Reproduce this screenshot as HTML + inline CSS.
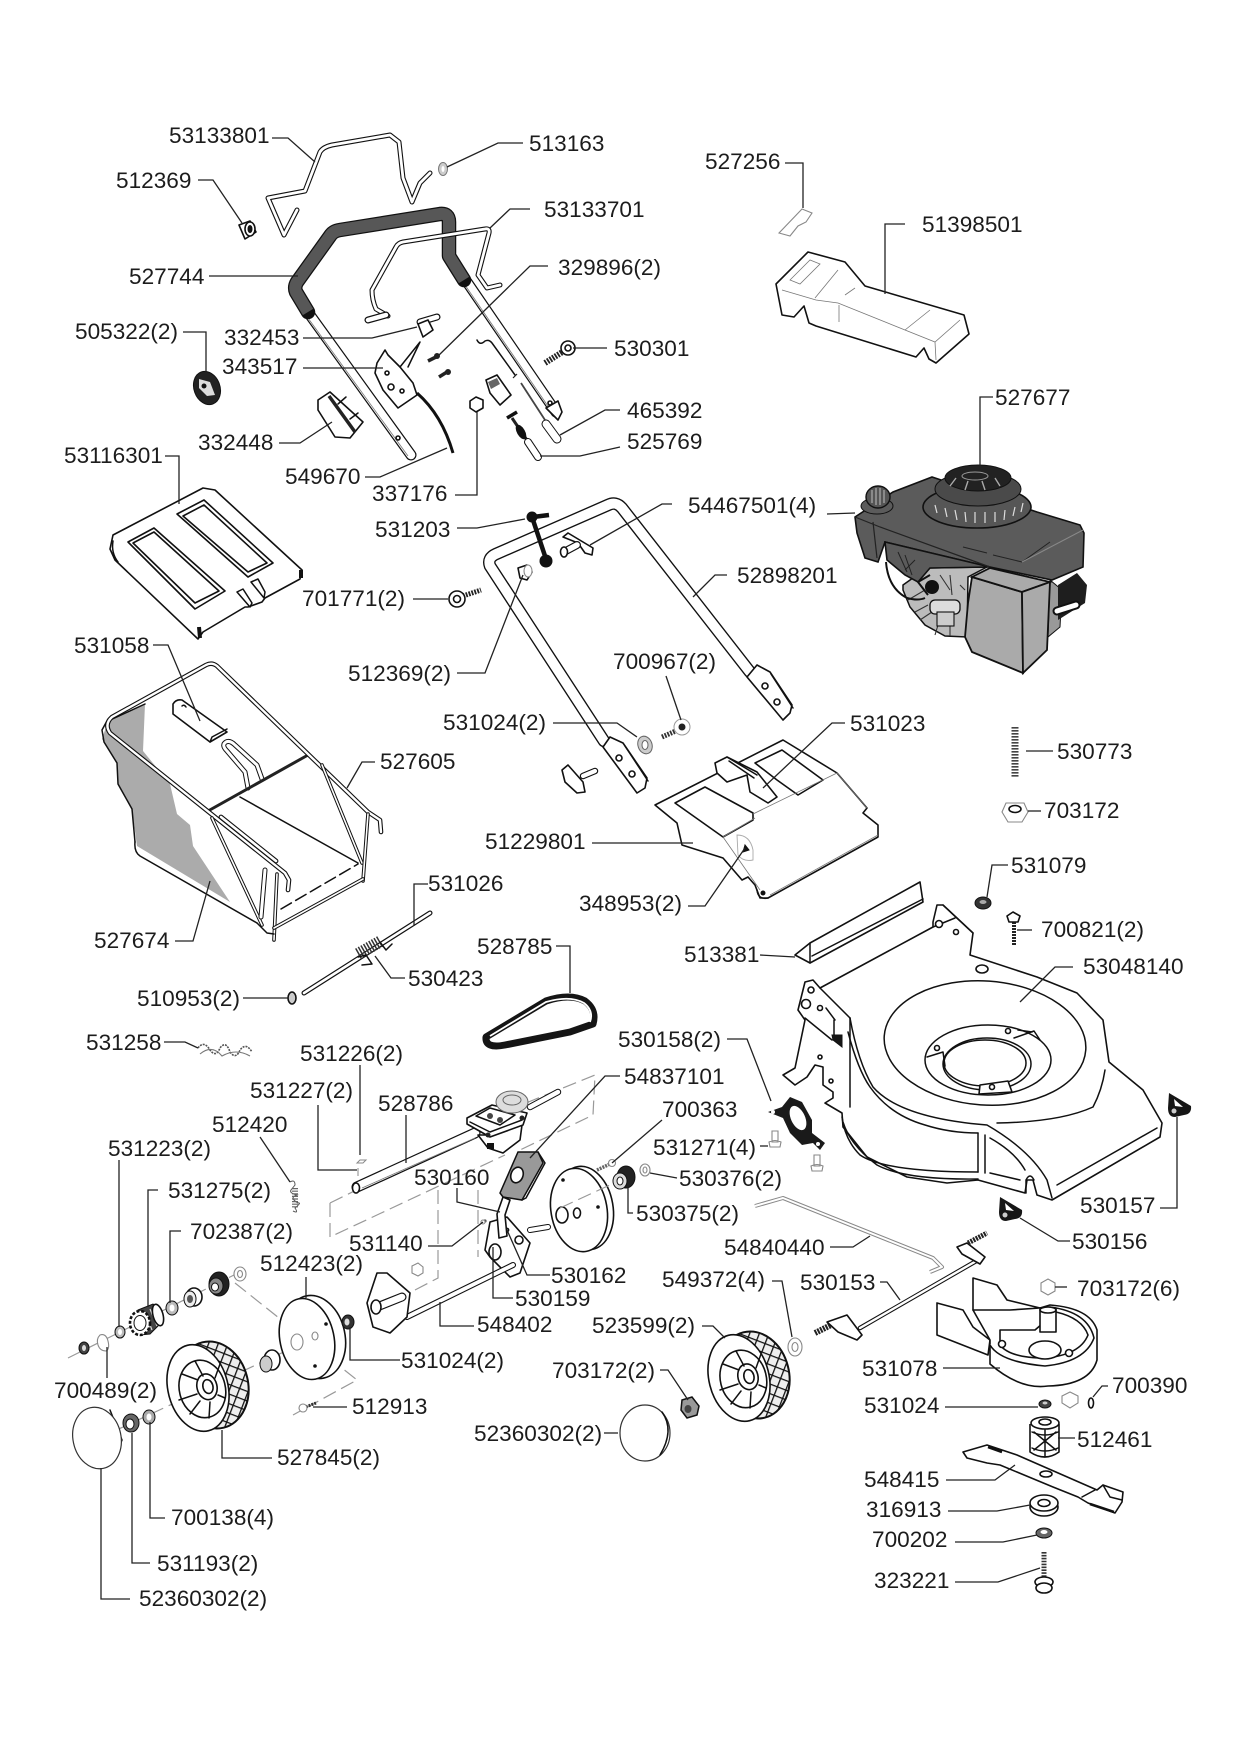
<!DOCTYPE html>
<html><head><meta charset="utf-8"><title>Parts diagram</title>
<style>
html,body{margin:0;padding:0;background:#fff}
svg{display:block}
text{font-family:"Liberation Sans",sans-serif;font-size:22.6px;fill:#1c1c1c;stroke:none}
.l{fill:none;stroke:#222;stroke-width:1.3}
.p{fill:#fff;stroke:#111;stroke-width:1.6;stroke-linejoin:round}
.n{fill:none;stroke:#111;stroke-width:1.5;stroke-linejoin:round;stroke-linecap:round}
.th{fill:none;stroke:#777;stroke-width:.8}
.g{fill:#fff;stroke:#888;stroke-width:1.1}
.d{fill:none;stroke:#999;stroke-width:1.2;stroke-dasharray:14 6}
.k{fill:#161616;stroke:#111;stroke-width:1}
.to{fill:none;stroke:#111;stroke-linejoin:round;stroke-linecap:round}
.ti{fill:none;stroke:#fff;stroke-linejoin:round;stroke-linecap:round}
</style></head>
<body>
<svg xmlns="http://www.w3.org/2000/svg" width="1240" height="1754" viewBox="0 0 1240 1754">
<defs>
<pattern id="tread" width="9" height="9" patternUnits="userSpaceOnUse" patternTransform="rotate(35)">
<rect width="9" height="9" fill="#eee"/><path d="M0 0H9M0 0V9" stroke="#111" stroke-width="2.6"/>
</pattern>
<g id="wheel">
<ellipse cx="15" cy="-3" rx="35" ry="44" fill="url(#tread)" stroke="#111" stroke-width="2" transform="rotate(-14 15 -3)"/>
<ellipse cx="0" cy="0" rx="30" ry="44" class="p" stroke-width="2.2" transform="rotate(-14)"/>
<ellipse cx="4" cy="2" rx="23" ry="29" class="p" transform="rotate(-14)"/>
<ellipse cx="9" cy="1" rx="10" ry="13" class="p" transform="rotate(-14)"/>
<ellipse cx="10" cy="1" rx="5" ry="7" class="p" transform="rotate(-14)"/>
<path class="n" d="M0-8L-16-14M-1 6L-19 12M5-12L-3-27M17-10L22-24M20 7L27 10M12 14L11 30M2 13L-8 26" stroke-width="1.3"/>
</g>
</defs>

<!-- ===== top handle ===== -->
<path class="to" stroke-width="5" d="M297 210L284 235L268 198L305 191L320 152Q323 147 332 145L390 135L399 142L403 178L412 202L420 183L430 173"/>
<path class="ti" stroke-width="2.8" d="M297 210L284 235L268 198L305 191L320 152Q323 147 332 145L390 135L399 142L403 178L412 202L420 183L430 173"/>
<ellipse cx="443" cy="169" rx="4.5" ry="6.5" fill="#ccc" stroke="#777"/><ellipse cx="443" cy="169" rx="1.5" ry="3" fill="#fff"/>
<polygon class="p" points="239,225 250,221 256,232 245,239"/><ellipse cx="250" cy="229" rx="5" ry="7" class="p"/><ellipse cx="250" cy="229" rx="2" ry="3.5" class="k"/>

<!-- lower handle tubes -->
<path class="to" stroke-width="11" d="M310 315L411 455"/><path class="ti" stroke-width="8.6" d="M310 315L411 455"/><path class="th" d="M308 318L408 456"/>
<path class="to" stroke-width="11" d="M467 282L556 412"/><path class="ti" stroke-width="8.6" d="M467 282L556 412"/><path class="th" d="M465 285L552 412"/>
<circle cx="550" cy="403" r="2" class="p"/><circle cx="398" cy="438" r="2" class="p"/>
<!-- grip -->
<path class="to" stroke-width="14.5" stroke-linecap="butt" d="M308 312L296 292Q294 287 297 282L330 236Q333 231 340 230L440 214Q449 213 449 222L449 256L464 280"/>
<path fill="none" stroke="#575757" stroke-width="12" stroke-linejoin="round" d="M308 312L296 292Q294 287 297 282L330 236Q333 231 340 230L440 214Q449 213 449 222L449 256L464 280"/>
<!-- 53133701 tube -->
<path class="to" stroke-width="5" d="M388 316L376 309Q372 300 372 290L396 247Q398 243 403 242L485 229Q490 228 489 233L478 275L487 288L500 285"/>
<path class="ti" stroke-width="2.8" d="M388 316L376 309Q372 300 372 290L396 247Q398 243 403 242L485 229Q490 228 489 233L478 275L487 288L500 285"/>
<path class="to" stroke-width="7" d="M368 320L386 315"/><path class="ti" stroke-width="4.5" d="M368 320L386 315"/>
<!-- 332453 tee -->
<path class="to" stroke-width="7" d="M420 322L437 317"/><path class="ti" stroke-width="4.6" d="M420 322L437 317"/>
<polygon class="p" points="418,324 428,320 433,330 423,337"/>
<!-- bracket 343517 -->
<polygon class="p" points="385,350 377,363 375,373 383,390 398,408 417,395 413,383 400,367 388,355"/>
<path class="n" d="M400 367L420 342L408 367"/><circle cx="387" cy="373" r="2" class="p"/><circle cx="391" cy="387" r="3" class="p"/><circle cx="402" cy="391" r="2" class="p"/>
<path fill="none" stroke="#111" stroke-width="3" d="M417 393Q442 415 453 453"/>
<!-- knob -->
<ellipse cx="207" cy="388" rx="13" ry="17" fill="#222" stroke="#111" transform="rotate(-20 207 388)"/>
<path d="M199 379L210 382L215 395L207 396L199 388Z" fill="#ddd"/>
<circle cx="204" cy="386" r="2.5" fill="#111"/>
<!-- 332448 -->
<polygon class="p" points="318,400 330,392 363,422 350,438 335,437 318,410"/>
<path d="M329 396L355 432" stroke="#222" stroke-width="3.5" fill="none"/><path class="n" d="M346 397L338 404M358 413L350 419"/>
<!-- small hardware -->
<path stroke="#222" stroke-width="3.5" d="M428 361L436 357"/><circle cx="437" cy="356" r="3" fill="#222"/>
<path stroke="#222" stroke-width="3.5" d="M439 377L447 372"/><circle cx="448" cy="372" r="3" fill="#222"/>
<path class="n" d="M477 340Q480 346 485 341Q489 339 492 343L515 375"/><path d="M521 383L545 420" stroke="#444" stroke-width="1.8"/><path d="M513 378L517 374" stroke="#222" stroke-width="1.2"/>
<polygon class="p" points="476,397 483,400 483,408 476,412 470,408 470,401"/>
<polygon class="p" points="486,380 497,375 511,395 500,405 490,393"/><path d="M488 382L497 378L500 384L491 389Z" fill="#666"/>
<path stroke="#222" stroke-width="3" d="M512 418L535 452"/><path d="M507 418L517 412" stroke="#111" stroke-width="3.5"/><ellipse cx="521" cy="432" rx="4" ry="8" fill="#111" transform="rotate(-30 521 432)"/>
<path class="to" stroke-width="8" d="M528 442L538 457"/><path class="ti" stroke-width="6" d="M528 442L538 457"/>
<path class="to" stroke-width="9" d="M546 424L557 439"/><path class="ti" stroke-width="7" d="M546 424L557 439"/>
<!-- right handle end -->
<path class="p" d="M546 408L558 401L562 412L558 420Z"/>
<!-- 530301 screw -->
<path d="M545 363L564 351" stroke="#222" stroke-width="6" stroke-dasharray="1.8 1.2"/><circle cx="568" cy="348" r="7" class="p" stroke-width="2"/><circle cx="568" cy="348" r="3" class="p"/>

<!-- ===== cover ===== -->
<polygon class="p" points="776,284 808,252 845,262 865,286 964,315 969,334 936,363 929,359 924,348 916,357 816,326 809,323 804,306 794,317 782,315" stroke-width="2"/>
<path class="th" d="M782 290L816 300L838 303L905 330L935 342L960 320M815 298L838 270M845 295L855 288M905 330L930 310M935 342L936 360M839 305V322"/>
<polygon class="th" points="790,280 810,260 820,264 800,284"/>
<polygon class="g" points="779,233 802,209 812,213 806,222 798,226 790,236"/>

<!-- ===== engine ===== -->
<polygon points="1050,580 1062,590 1060,627 1048,637" fill="#999" stroke="#111"/>
<polygon points="1058,585 1077,573 1087,585 1085,603 1058,620" fill="#1e1e1e"/>
<path d="M1057 611L1076 605" stroke="#111" stroke-width="9" stroke-linecap="round"/><path d="M1057 611L1076 605" stroke="#fff" stroke-width="5" stroke-linecap="round"/>
<path d="M903 585L927 568L987 567L968 577L967 637L945 636L925 625L910 607L903 590Z" fill="#bcbcbc" stroke="#111" stroke-width="1.5"/>
<path d="M908 600L925 590M915 612L928 605M938 625L935 635M950 625V636M920 620L935 610M950 575L952 595M960 585L965 590M940 575L950 590" stroke="#333" stroke-width="1.1"/>
<rect x="930" y="600" width="30" height="14" rx="5" fill="#ddd" stroke="#111" stroke-width="1.3"/>
<rect x="937" y="612" width="17" height="14" fill="#ccc" stroke="#111" stroke-width="1.1"/>
<path d="M930 575L918 582L928 595" fill="none" stroke="#111" stroke-width="2"/>
<polygon points="855,517 893,492 932,477 1037,512 1080,525 1084,533 1083,567 1052,580 990,567 885,542 878,562 865,558 857,533" fill="#5b5b5b" stroke="#111" stroke-width="1.6"/>
<polygon points="885,542 990,567 930,568 918,582 905,575 887,560" fill="#5b5b5b" stroke="#111" stroke-width="1.6"/>
<path d="M905 555L912 575M898 552L907 572M915 560L905 570" stroke="#222" stroke-width="1"/>
<path d="M873 522L877 558M855 517L880 527L990 567" stroke="#222" stroke-width="1.2" fill="none"/>
<path d="M963 547L987 553M993 555L1022 562L1050 542" stroke="#222" stroke-width="1" fill="none"/>
<path d="M1083 530L1022 562" stroke="#888" stroke-width="1" fill="none"/>
<ellipse cx="977" cy="507" rx="54" ry="21" fill="#565656" stroke="#111" stroke-width="1.6"/>
<path d="M935 505L937 513M945 508L947 517M955 510L957 520M965 512L966 522M975 512L975 523M985 512L985 523M995 512L995 522M1005 510L1004 520M1015 507L1013 516M1023 503L1021 512" stroke="#ddd" stroke-width="1.2"/>
<ellipse cx="978" cy="489" rx="43" ry="17" fill="#4a4a4a" stroke="#111"/>
<ellipse cx="978" cy="478" rx="33" ry="13" fill="#222" stroke="#111"/>
<ellipse cx="975" cy="476" rx="13" ry="4" fill="none" stroke="#999"/>
<path d="M950 486L956 478M965 490L968 481M985 490L982 481M1000 486L995 478" stroke="#aaa" stroke-width="1.4"/>
<ellipse cx="877" cy="506" rx="16" ry="8" fill="#5b5b5b" stroke="#111"/>
<ellipse cx="878" cy="497" rx="12" ry="11" fill="#555" stroke="#111" stroke-width="1.4"/>
<path d="M872 490V503M876 488V505M880 488V505M884 490V503" stroke="#ccc" stroke-width=".9"/>
<polygon points="972,577 1022,592 1023,673 972,652 965,637 968,603" fill="#aaa" stroke="#111" stroke-width="1.8"/>
<polygon points="972,577 990,568 1050,582 1022,592" fill="#aaa" stroke="#111" stroke-width="1.8"/>
<polygon points="1022,592 1050,582 1047,650 1023,673" fill="#aaa" stroke="#111" stroke-width="1.8"/>
<path fill="none" stroke="#111" stroke-width="2" d="M886 562Q888 588 907 598Q918 601 925 598"/>
<circle cx="932" cy="587" r="7" fill="#111"/>

<!-- ===== catcher lid ===== -->
<polygon class="p" points="113,535 203,488 215,490 302,570 300,579 265,598 262,602 248,607 245,607 203,632 198,639 115,560 110,549" stroke-width="1.8"/>
<path class="n" d="M118 562Q111 553 113 541"/>
<polygon class="p" points="128,542 154,528 225,591 195,609" stroke-width="1.8"/><polygon class="p" points="133,543 154,532 219,591 195,603"/>
<polygon class="p" points="177,514 204,500 273,563 248,577" stroke-width="1.8"/><polygon class="p" points="183,516 204,505 267,563 248,572"/>
<path class="n" d="M237 592L243 589L252 603L250 607ZM251 582L258 579L265 592L264 598Z"/>
<path d="M199 627L200 638M301 570L301 578" stroke="#111" stroke-width="4"/>

<!-- ===== catcher ===== -->
<polygon points="108,721 145,704 143,751 170,784 177,814 190,825 193,846 230,902 137,846 132,809 118,784 117,763 102,739" fill="#ababab"/>
<path class="n" d="M108 719L102 730L104 742L117 763L118 784L132 809L135 842"/>
<path class="n" d="M145 704L108 721"/>
<path class="n" d="M135 842Q134 852 140 856L257 923"/>
<path class="n" d="M240 797L358 863"/>
<path class="to" stroke-width="5" d="M248 788L245 772L227 751Q221 745 226 742Q230 740 235 745L257 765L262 779"/><path class="ti" stroke-width="3" d="M248 788L245 772L227 751Q221 745 226 742Q230 740 235 745L257 765L262 779"/>
<path stroke="#222" stroke-width="3" d="M208 811L308 755"/>
<path class="p" d="M173 704Q176 699 182 700L227 732L210 742L173 714Z"/><path class="n" d="M210 742L212 737L227 729M186 707q-2-3-4-1"/>
<path class="to" stroke-width="4.6" d="M381 832L380 820L368 812L217 666Q212 662 206 665L112 717Q104 724 110 733L285 873L289 880L288 890"/>
<path class="ti" stroke-width="2.4" d="M381 832L380 820L368 812L217 666Q212 662 206 665L112 717Q104 724 110 733L285 873L289 880L288 890"/>
<path class="to" stroke-width="3.6" d="M322 765L362 863"/><path class="ti" stroke-width="1.6" d="M322 765L362 863"/>
<path class="to" stroke-width="3.6" d="M212 818L262 925"/><path class="ti" stroke-width="1.6" d="M212 818L262 925"/>
<path class="to" stroke-width="3.6" d="M368 814L363 881"/><path class="ti" stroke-width="1.6" d="M368 814L363 881"/>
<path class="to" stroke-width="3.6" d="M277 874L274 940"/><path class="ti" stroke-width="1.6" d="M277 874L274 940"/>
<path class="to" stroke-width="3.6" d="M274 928L363 879"/><path class="ti" stroke-width="1.6" d="M274 928L363 879"/>
<path class="to" stroke-width="4.8" d="M221 817L276 861"/><path class="ti" stroke-width="2.6" d="M221 817L276 861"/>
<path class="to" stroke-width="5" d="M265 870L261 917"/><path class="ti" stroke-width="3" d="M265 870L261 917"/>
<path class="n" d="M281 909L358 864" stroke-dasharray="12 5"/>
<path class="n" d="M257 923L267 933L274 934"/>

<!-- shaft 531026 -->
<path class="to" stroke-width="5" d="M304 993L430 913"/><path class="ti" stroke-width="2.6" d="M304 993L430 913"/>
<path d="M358 954L381 941" stroke="#333" stroke-width="12" stroke-dasharray="1.5 1.5"/>
<path d="M358 957L366 955L372 964L362 965" class="n" stroke-width="1.1"/><path d="M380 942L386 950L392 944" class="n" stroke-width="1.1"/>
<ellipse cx="292" cy="998" rx="4" ry="6" fill="#ccc" stroke="#111" stroke-width="1.6"/>

<!-- belt -->
<path fill="none" stroke="#151515" stroke-width="7" stroke-linejoin="round" d="M486 1037L546 1001Q570 993 585 1001Q597 1010 593 1024L570 1032L505 1045Q485 1049 486 1037Z"/>
<path fill="none" stroke="#fff" stroke-width="1.8" d="M490 1036L546 1002Q570 995 584 1003Q594 1011 590 1022"/>
<!-- spring 531258 -->
<path fill="none" stroke="#555" stroke-width="1.6" stroke-dasharray="2 1" d="M198 1048Q204 1040 210 1050Q216 1058 220 1048Q226 1040 230 1052Q236 1060 240 1050Q246 1042 252 1052"/>
<path fill="none" stroke="#777" stroke-width="1.1" d="M200 1054Q212 1044 222 1056Q236 1048 250 1056"/>

<!-- ===== upper handle ===== -->
<path class="to" stroke-width="12.5" d="M604 741L490 566Q487 558 496 554L608 505Q616 501 622 508L750 672"/>
<path class="ti" stroke-width="9.8" d="M604 741L490 566Q487 558 496 554L608 505Q616 501 622 508L750 672"/>
<polygon class="p" points="603,747 610,737 623,743 647,778 645,788 637,793"/><path class="n" d="M625 746L648 781"/>
<circle cx="619" cy="758" r="3" class="p"/><circle cx="632" cy="774" r="3" class="p"/>
<polygon class="p" points="747,677 757,665 770,672 792,705 790,713 783,720"/><path class="n" d="M771 674L793 708"/>
<circle cx="765" cy="686" r="3" class="p"/><circle cx="777" cy="702" r="3" class="p"/>
<path stroke="#111" stroke-width="4.5" fill="none" d="M532 517L547 562M533 517L549 515"/><circle cx="532" cy="517" r="5.5" fill="#111"/><circle cx="546" cy="561" r="6.5" fill="#111"/>
<polygon class="p" points="563,537 568,533 593,548 592,555 585,553 578,543"/>
<path class="to" stroke-width="8" d="M564 552L577 545"/><path class="ti" stroke-width="5.6" d="M564 552L577 545"/><ellipse cx="564" cy="552" rx="3.5" ry="5" class="p"/>
<path class="p" d="M518 568L527 565L532 572L527 580L520 578Z"/><ellipse cx="528" cy="571" rx="4" ry="6" class="g" stroke="#333"/>
<path d="M463 596L481 590" stroke="#222" stroke-width="5" stroke-dasharray="1.8 1.2"/><circle cx="457" cy="599" r="8" class="p"/><circle cx="457" cy="599" r="3.5" class="p"/>
<path d="M662 737L678 730" stroke="#333" stroke-width="5" stroke-dasharray="1.8 1.2"/><circle cx="682" cy="727" r="8" fill="#fff" stroke="#999"/><circle cx="682" cy="727" r="3.5" fill="#222"/>
<ellipse cx="645" cy="745" rx="7" ry="9" fill="#ccc" stroke="#666" transform="rotate(-20 645 745)"/><ellipse cx="645" cy="745" rx="3" ry="4.5" fill="#fff" stroke="#666"/>
<polygon class="p" points="562,770 568,765 583,782 585,792 577,793 565,782"/>
<path class="to" stroke-width="6.5" d="M583 776L595 771"/><path class="ti" stroke-width="4.2" d="M583 776L595 771"/>

<!-- ===== deflector ===== -->
<polygon class="p" points="655,805 783,740 837,773 867,808 863,813 878,825 878,837 768,898 760,898 755,885 748,877 742,880 723,858 682,845 677,823" stroke-width="1.7"/>
<polygon class="p" points="675,803 705,787 753,813 753,820 723,837"/>
<polygon class="p" points="755,763 782,750 823,780 798,795 777,780"/>
<path class="th" d="M753 814L837 773L867 808M723 837L755 818M723 837L760 890M770 895L878 835" stroke-width=".7"/>
<polygon class="p" points="715,763 727,757 757,772 777,797 768,803 750,792 747,775 727,782 717,773"/>
<path class="n" d="M727 757L757 775M729 761L754 778"/>
<path class="n" d="M768 898Q758 900 757 890"/><circle cx="763" cy="893" r="2.5" fill="#111"/>
<path d="M737 835Q750 835 753 850L753 860Q743 862 738 855Z" fill="none" stroke="#aaa" stroke-width=".9"/>
<path d="M745 845L743 852L749 850Z" class="k"/>

<!-- ===== deck ===== -->
<polygon class="p" points="795,955 810,943 920,882 923,902 810,963"/><path class="n" d="M810 943L810 963M923 899L812 956"/>
<polygon class="p" points="933,927 933,922 937,905 943,905 973,933 970,955 1037,977 1077,993 1103,1020 1109,1062 1143,1090 1162,1123 1160,1137 1052,1200 1037,1195 1033,1180 1027,1180 1025,1193 978,1180 947,1183 907,1177 867,1157 843,1127 842,1113 825,1103 833,1098 833,1092 823,1085 823,1067 815,1065 807,1077 795,1085 783,1075 795,1068 805,1020 798,1010 805,982 813,980 820,988" stroke-width="1.7"/>
<ellipse cx="985" cy="1043" rx="101" ry="62" class="n" transform="rotate(4 985 1043)"/>
<ellipse cx="988" cy="1060" rx="63" ry="35" class="n"/>
<ellipse cx="987" cy="1064" rx="44" ry="26" class="n"/><ellipse cx="985" cy="1063" rx="41" ry="23" class="n" stroke-width="1"/>
<path class="p" d="M980 1085L1008 1081L1012 1092L979 1094Z"/><circle cx="992" cy="1087" r="2.5" class="p"/>
<path class="n" d="M927 1057L943 1052L945 1066M1014 1038L1034 1031L1040 1040M1018 1030L1032 1032"/>
<circle cx="937" cy="1048" r="2.5" class="p"/><circle cx="1008" cy="1031" r="2.5" class="p"/>
<ellipse cx="982" cy="969" rx="6" ry="4" class="p"/>
<path class="n" d="M850 1018Q858 1062 873 1087Q900 1118 987 1125Q1030 1150 1047 1180L1052 1198"/>
<path class="n" d="M850 1018V1107"/><path class="n" d="M848 1032Q858 1070 870 1087Q890 1115 925 1125Q950 1133 978 1133"/>
<path class="n" d="M997 1123Q1060 1122 1093 1107Q1102 1090 1105 1070"/>
<path class="n" d="M1057 1185L1157 1128"/>
<path class="n" d="M978 1133V1172M985 1135V1173"/>
<path class="n" d="M842 1117Q845 1140 860 1155Q885 1172 978 1172M843 1122Q850 1145 877 1165Q905 1180 978 1179"/>
<path class="n" d="M990 1138Q1015 1152 1025 1170M990 1173L1020 1180"/>
<path class="n" d="M1026 1193V1180Q1030 1172 1034 1180"/>
<path class="n" d="M805 1018L832 1040M820 988L850 1018M826 1008L835 1020M834 1020V1040"/>
<circle cx="811" cy="990" r="3" class="p"/><circle cx="820" cy="1008" r="2.5" class="p"/><circle cx="806" cy="1004" r="4.5" class="p"/>
<circle cx="820" cy="1057" r="2" class="p"/><circle cx="831" cy="1081" r="2" class="p"/>
<path class="k" d="M832 1035L842 1035L842 1047L833 1040Z"/>
<path class="n" d="M943 905L973 933M933 927L955 918"/><circle cx="939" cy="924" r="3.5" class="p"/><circle cx="956" cy="932" r="2.5" class="p"/>
<!-- nut/bolt deck -->
<ellipse cx="983" cy="903" rx="8" ry="6" fill="#333" stroke="#111"/><ellipse cx="983" cy="902" rx="3.5" ry="2" fill="#aaa"/>
<path d="M1014 922V945" stroke="#222" stroke-width="4" stroke-dasharray="2 1"/><polygon class="p" points="1007,916 1013,912 1020,916 1018,922 1009,922"/>
<path d="M1015 727V777" stroke="#444" stroke-width="7" stroke-dasharray="1.6 1.4"/>
<polygon class="g" points="1006,803 1024,803 1028,812 1022,822 1008,822 1002,812" stroke="#222"/><ellipse cx="1015" cy="809" rx="6" ry="3.5" class="p"/>
<!-- clips -->
<g id="clip"><path d="M1169 1093L1191 1106Q1192 1114 1184 1115L1175 1117Q1168 1117 1168 1108Z" fill="#161616"/><path d="M1174 1099L1183 1107L1175 1106Z" fill="#fff"/><circle cx="1174" cy="1111" r="2.5" fill="#ccc"/></g>
<path d="M1000 1197L1022 1210Q1023 1218 1015 1219L1006 1221Q999 1221 999 1212Z" fill="#161616"/><path d="M1005 1203L1014 1211L1006 1210Z" fill="#fff"/><circle cx="1005" cy="1215" r="2.5" fill="#ccc"/>
<!-- 530158 -->
<polygon points="768,1112 782,1107 790,1097 802,1102 812,1120 812,1133 825,1143 820,1150 813,1143 802,1145 790,1133 783,1118" fill="#1a1a1a"/>
<ellipse cx="798" cy="1118" rx="7" ry="13" fill="#fff" transform="rotate(-25 798 1118)"/><circle cx="773" cy="1112" r="2" fill="#fff"/><circle cx="818" cy="1144" r="2" fill="#fff"/>
<path class="g" d="M772 1131h6v11h-6zM769 1142q6-3 12 0l-1 5h-10zM814 1155h6v11h-6zM811 1166q6-3 12 0l-1 5h-10z"/>

<!-- ===== 54840440 bar ===== -->
<path fill="none" stroke="#888" stroke-width="4" stroke-linejoin="round" d="M755 1206L783 1198L933 1258L942 1267L930 1272"/>
<path fill="none" stroke="#fff" stroke-width="2" stroke-linejoin="round" d="M755 1206L783 1198L933 1258L942 1267L930 1272"/>

<!-- ===== axle 530153 ===== -->
<path class="to" stroke-width="4.5" d="M860 1328L978 1260"/><path class="ti" stroke-width="2.4" d="M860 1328L978 1260"/>
<path d="M815 1333L835 1323" stroke="#222" stroke-width="6" stroke-dasharray="2 1"/>
<polygon class="p" points="827,1322 847,1315 862,1335 857,1340 838,1332"/>
<polygon class="p" points="957,1247 967,1243 985,1257 980,1264 962,1254"/>
<path d="M968 1243L987 1233" stroke="#222" stroke-width="5" stroke-dasharray="2 1"/>

<!-- ===== blade housing 531078 ===== -->
<polygon class="p" points="973,1278 997,1285 1007,1300 1040,1308 1040,1340 973,1310"/>
<polygon class="p" points="937,1303 937,1335 988,1355 990,1340 973,1327 963,1310"/>
<path class="p" d="M990 1340V1364Q1020 1390 1048 1386Q1090 1385 1097 1360V1330Q1090 1308 1050 1305L1040 1308L1010 1310L973 1310L990 1340Z" stroke-width="1.8"/>
<path class="p" d="M990 1345Q1000 1362 1045 1366Q1085 1362 1094 1338Q1088 1312 1050 1307L1040 1308"/>
<path class="p" d="M1000 1345Q1010 1358 1045 1358Q1080 1355 1088 1335Q1082 1318 1056 1312L1035 1330L1000 1330Z" stroke="#111"/>
<ellipse cx="1045" cy="1350" rx="16" ry="9" class="p" stroke-width="2"/>
<rect x="1040" y="1308" width="16" height="24" class="p"/><ellipse cx="1048" cy="1310" rx="8" ry="3" class="p"/>
<circle cx="1002" cy="1344" r="3.5" class="p"/><circle cx="1069" cy="1353" r="3.5" class="p"/>
<polygon class="g" points="1041,1283 1048,1279 1055,1283 1055,1291 1048,1295 1041,1291" stroke="#aaa"/>
<ellipse cx="1045" cy="1404" rx="6" ry="4" fill="#444" stroke="#111"/><ellipse cx="1045" cy="1403" rx="2.5" ry="1.5" fill="#ccc"/>
<polygon class="g" points="1062,1396 1070,1392 1078,1396 1078,1403 1070,1408 1062,1403" stroke="#aaa"/>
<ellipse cx="1091" cy="1403" rx="2.5" ry="5" class="p"/>
<!-- 512461 -->
<path class="p" d="M1030 1424V1452Q1045 1462 1059 1452V1424"/><ellipse cx="1045" cy="1423" rx="14" ry="6" class="p" stroke-width="2"/><ellipse cx="1045" cy="1422" rx="6" ry="3" class="p"/>
<path class="n" d="M1034 1432L1056 1450M1056 1432L1034 1450M1045 1430V1456M1032 1432Q1045 1438 1058 1432M1032 1448Q1045 1454 1058 1448" stroke-width="1.2"/>
<!-- blade -->
<polygon class="p" points="963,1452 987,1445 1017,1455 1097,1490 1103,1485 1123,1492 1122,1502 1115,1513 1088,1503 1078,1497 1053,1487 1000,1465 987,1463 967,1458"/>
<ellipse cx="1046" cy="1474" rx="6" ry="3" class="p" stroke-width="2"/>
<path d="M988 1447L1002 1452M1090 1504L1114 1512" stroke="#111" stroke-width="2.6"/>
<path class="n" d="M1082 1497L1095 1490M1103 1485L1110 1497L1122 1500" stroke-width="1"/>
<!-- washers, bolt -->
<ellipse cx="1044" cy="1507" rx="14" ry="9" class="p"/><ellipse cx="1044" cy="1503" rx="14" ry="8" class="p"/><ellipse cx="1044" cy="1503" rx="6" ry="3.5" class="p" stroke-width="2"/>
<ellipse cx="1044" cy="1533" rx="8" ry="5" fill="#666" stroke="#111"/><ellipse cx="1044" cy="1532" rx="3.5" ry="2" fill="#fff"/>
<path d="M1044 1552V1577" stroke="#333" stroke-width="5" stroke-dasharray="1.6 1.3"/><ellipse cx="1044" cy="1582" rx="9" ry="5" class="p" stroke-width="2"/><ellipse cx="1044" cy="1588" rx="8" ry="5" class="p"/>

<!-- ===== drive ===== -->
<path class="d" d="M330 1203L438 1150M438 1190V1278L415 1290M330 1203V1237L505 1155M478 1190V1257M526 1103L595 1075L593 1115L520 1150"/>
<path class="d" d="M68 1358L240 1272M78 1448L348 1322M235 1283L357 1380L293 1415"/>
<path class="to" stroke-width="11" d="M357 1187L475 1133"/><path class="ti" stroke-width="8.6" d="M357 1187L475 1133"/><path class="th" d="M362 1188L475 1138"/>
<ellipse cx="356" cy="1188" rx="3.5" ry="5" class="p"/>
<path class="to" stroke-width="6.5" d="M530 1107L558 1092"/><path class="ti" stroke-width="4.4" d="M530 1107L558 1092"/>
<polygon class="p" points="487,1135 522,1125 520,1140 503,1153 488,1148 478,1135"/>
<polygon class="p" points="467,1118 492,1105 527,1113 523,1125 490,1137 467,1124"/>
<polyline class="n" points="470,1122 490,1132 522,1120" stroke-width="2.4"/>
<path class="n" d="M476 1116L490 1108L515 1115L500 1125Z" stroke-width="1.2"/>
<circle cx="490" cy="1116" r="3" fill="#444"/><circle cx="500" cy="1120" r="3" fill="#444"/><circle cx="488" cy="1135" r="2.5" fill="#222"/><circle cx="522" cy="1118" r="2.5" fill="#222"/>
<ellipse cx="512" cy="1102" rx="16" ry="11" fill="#ddd" stroke="#666"/><ellipse cx="512" cy="1100" rx="9" ry="5" fill="none" stroke="#666"/>
<rect x="487" y="1143" width="7" height="6" fill="#111"/>
<path stroke="#888" d="M360 1160l-3 3h6l3-3zM358 1168v8" fill="#fff"/>
<!-- plates -->
<polygon class="p" points="485,1250 490,1222 507,1217 530,1243 520,1273 510,1277 490,1257"/><ellipse cx="495" cy="1252" rx="6" ry="8" class="p"/><circle cx="519" cy="1240" r="4" class="p"/><circle cx="507" cy="1230" r="1.6" class="p"/>
<path class="to" stroke-width="6" d="M530 1230L548 1227"/><path class="ti" stroke-width="4" d="M530 1230L548 1227"/>
<path class="p" d="M503 1197L510 1200L505 1215L507 1236L499 1238L497 1214Z" stroke="#888"/>
<polygon points="518,1152 538,1152 543,1163 522,1200 503,1197 500,1193" fill="#999" stroke="#111" stroke-width="1.5"/><path class="n" d="M538 1152L545 1163L526 1198L522 1200"/><ellipse cx="517" cy="1175" rx="6" ry="8" class="p" transform="rotate(20 517 1175)"/>
<circle cx="485" cy="1221" r="1.6" fill="#555"/>
<path class="to" stroke-width="6" d="M407 1317L513 1265"/><path class="ti" stroke-width="3.8" d="M407 1317L513 1265"/>
<polygon class="p" points="367,1303 377,1273 387,1273 410,1293 407,1317 390,1333 373,1327"/>
<path class="to" stroke-width="9" d="M377 1307L402 1297"/><path class="ti" stroke-width="6.6" d="M377 1307L402 1297"/><ellipse cx="376" cy="1307" rx="5" ry="7" class="p"/>
<polygon class="g" points="412,1266 418,1263 423,1267 423,1273 418,1276 412,1273" stroke="#aaa"/>
<!-- right disc -->
<ellipse cx="585" cy="1208" rx="28" ry="42" class="p" transform="rotate(-10 585 1208)"/>
<ellipse cx="579" cy="1210" rx="28" ry="42" class="p" transform="rotate(-10 579 1210)"/>
<ellipse cx="562" cy="1215" rx="6" ry="8" class="p"/><ellipse cx="577" cy="1213" rx="3.5" ry="5" class="p"/>
<circle cx="563" cy="1180" r="1.8" fill="#111"/><circle cx="598" cy="1207" r="1.8" fill="#111"/>
<path d="M560 1208L625 1178" class="d"/>
<ellipse cx="626" cy="1177" rx="9" ry="11" fill="#222" stroke="#111"/><ellipse cx="620" cy="1181" rx="7" ry="8" fill="#ddd" stroke="#111"/><ellipse cx="620" cy="1181" rx="3" ry="4" fill="#fff" stroke="#111"/>
<ellipse cx="645" cy="1170" rx="5" ry="6" class="g"/><ellipse cx="645" cy="1170" rx="2" ry="3" class="g"/>
<path d="M597 1170L610 1164" stroke="#666" stroke-width="3.5" stroke-dasharray="2 1"/><circle cx="612" cy="1163" r="3.5" class="g"/>
<circle cx="483" cy="1222" r="2" class="g" stroke="#333"/>
<!-- left gear stack -->
<ellipse cx="84" cy="1348" rx="5" ry="6" fill="#444" stroke="#111"/><ellipse cx="84" cy="1348" rx="2" ry="3" fill="#ddd"/>
<path class="g" d="M100 1335q6-2 8 6t-2 10q-6 0-8-6t2-10z"/>
<ellipse cx="120" cy="1332" rx="5" ry="6" fill="#bbb" stroke="#111"/><ellipse cx="120" cy="1332" rx="2" ry="3" fill="#fff"/>
<path d="M138 1310L153 1304Q165 1312 162 1322L150 1334L140 1335Z" fill="#444" stroke="#111"/>
<path d="M145 1312L152 1330M150 1309L157 1326" stroke="#ddd" stroke-width="1.2"/>
<ellipse cx="158" cy="1315" rx="5" ry="11" class="p" transform="rotate(-15 158 1315)"/>
<ellipse cx="140" cy="1323" rx="10" ry="12" fill="#fff" stroke="#111" stroke-width="2.6" stroke-dasharray="3 1.8"/><ellipse cx="140" cy="1323" rx="6" ry="7.5" fill="#fff" stroke="#111"/>
<ellipse cx="172" cy="1308" rx="6" ry="7" fill="#bbb" stroke="#111"/><ellipse cx="172" cy="1308" rx="2.5" ry="3.5" fill="#fff"/>
<ellipse cx="194" cy="1297" rx="8" ry="9" class="p"/><ellipse cx="190" cy="1299" rx="6" ry="8" fill="#eee" stroke="#111"/><ellipse cx="190" cy="1299" rx="3" ry="4" fill="#555"/>
<ellipse cx="219" cy="1284" rx="10" ry="12" fill="#222" stroke="#111"/><ellipse cx="216" cy="1286" rx="7" ry="8" fill="#888" stroke="#111"/><ellipse cx="215" cy="1287" rx="3.5" ry="4" fill="#fff" stroke="#111"/>
<ellipse cx="240" cy="1274" rx="6" ry="7" class="g"/><ellipse cx="240" cy="1274" rx="2.5" ry="3.5" class="g"/>
<!-- spring 512420 -->
<path fill="none" stroke="#555" stroke-width="1" d="M290 1182q5-3 5 3l-4 5q-2 3 6 5-6 2-3 5t5 3-4 5q4 6-2 3"/><path d="M295 1188V1208" stroke="#666" stroke-width="6" stroke-dasharray="1.2 1.4"/>
<!-- left disc -->
<ellipse cx="315" cy="1337" rx="30" ry="42" class="p" transform="rotate(-12 315 1337)"/>
<ellipse cx="307" cy="1339" rx="27" ry="41" class="p" transform="rotate(-12 307 1339)"/>
<ellipse cx="297" cy="1342" rx="6" ry="8" class="g"/><circle cx="326" cy="1324" r="1.8" fill="#111"/><circle cx="315" cy="1366" r="1.8" fill="#111"/><ellipse cx="315" cy="1336" rx="3" ry="4" class="g"/>
<ellipse cx="348" cy="1322" rx="6" ry="7" fill="#333" stroke="#111"/><ellipse cx="347" cy="1322" rx="2.5" ry="3.5" fill="#ddd"/>
<ellipse cx="272" cy="1360" rx="8" ry="10" class="p"/><ellipse cx="266" cy="1364" rx="6" ry="8" fill="#ccc" stroke="#111"/>
<!-- wheels -->
<use href="#wheel" x="198" y="1388"/>
<use href="#wheel" x="739" y="1378"/>
<ellipse cx="149" cy="1417" rx="6" ry="7" fill="#aaa" stroke="#111"/><ellipse cx="149" cy="1417" rx="2.5" ry="3.5" fill="#fff"/>
<ellipse cx="131" cy="1423" rx="8" ry="9" fill="#666" stroke="#111"/><ellipse cx="130" cy="1424" rx="4" ry="5" fill="#fff" stroke="#111"/>
<path class="n" d="M110 1410L122 1440L118 1450" stroke-width="1"/>
<ellipse cx="97" cy="1438" rx="24" ry="31" fill="#fff" stroke="#333" stroke-width="1.2" transform="rotate(-12 97 1438)"/>
<path d="M303 1408L316 1403" stroke="#333" stroke-width="3" stroke-dasharray="2 1"/><circle cx="303" cy="1408" r="4" class="g"/>
<!-- right wheel hardware -->
<ellipse cx="795" cy="1347" rx="7" ry="9" class="g"/><ellipse cx="795" cy="1347" rx="3" ry="4.5" class="g"/>
<polygon points="682,1400 692,1397 699,1406 697,1415 687,1418 681,1410" fill="#999" stroke="#111" stroke-width="1.5"/><ellipse cx="688" cy="1409" rx="3.5" ry="4" fill="#444"/>
<ellipse cx="645" cy="1433" rx="25" ry="28" fill="#fff" stroke="#333" stroke-width="1.2"/><path class="n" d="M662 1412Q675 1430 660 1455" stroke-width="1"/>

<!-- ===== leaders ===== -->
<g class="l">
<polyline points="272,138 288,138 315,162"/><polyline points="447,167 498,143 523,143"/><polyline points="198,180 213,180 242,223"/>
<polyline points="490,228 510,209 530,209"/><polyline points="437,357 530,266 548,266"/><line x1="209" y1="276" x2="298" y2="276"/>
<polyline points="303,338 372,338 417,327"/><polyline points="303,368 383,368"/><polyline points="183,332 206,332 206,372"/>
<polyline points="279,443 300,443 332,422"/><polyline points="365,477 380,477 447,448"/><polyline points="573,348 607,348"/>
<polyline points="477,412 477,495 455,495"/><polyline points="540,456 580,456 620,447"/><polyline points="560,435 605,410 620,410"/>
<polyline points="785,163 803,163 803,208"/><polyline points="905,224 885,224 885,294"/><polyline points="993,397 980,397 980,466"/>
<polyline points="827,514 855,513"/><polyline points="165,456 179,456 179,504"/><polyline points="153,645 168,645 200,721"/>
<polyline points="375,762 362,762 347,788"/><polyline points="175,941 193,941 210,881"/>
<polyline points="457,528 477,528 525,519"/><polyline points="590,545 662,504 672,504"/><polyline points="693,597 715,575 727,575"/>
<polyline points="523,575 485,673 457,673"/><polyline points="413,599 448,599"/><polyline points="666,676 681,720"/>
<polyline points="553,723 617,723 637,737"/><polyline points="845,723 832,723 763,788"/><polyline points="592,843 693,843"/>
<polyline points="688,906 705,906 745,848"/><polyline points="1026,751 1053,751"/><polyline points="1028,811 1041,811"/>
<polyline points="987,897 992,865 1008,865"/><polyline points="1017,930 1032,930"/><polyline points="1020,1002 1055,967 1073,967"/>
<polyline points="760,955 795,957"/><polyline points="428,884 414,884 414,926"/><polyline points="375,956 391,978 405,978"/>
<polyline points="243,998 288,998"/><polyline points="556,946 570,946 570,993"/><polyline points="727,1039 747,1039 771,1101"/>
<polyline points="164,1042 185,1042 198,1048"/><polyline points="360,1065 360,1155"/><polyline points="318,1105 318,1170 357,1170"/>
<polyline points="406,1115 406,1163"/><polyline points="530,1158 605,1076 620,1076"/><polyline points="612,1163 662,1120"/>
<polyline points="760,1146 768,1146"/><polyline points="650,1173 677,1178"/><polyline points="628,1187 628,1213 633,1213"/>
<polyline points="457,1188 457,1202 500,1212"/><polyline points="428,1246 452,1246 483,1222"/><polyline points="507,1230 527,1275 550,1275"/>
<polyline points="493,1247 493,1298 513,1298"/><polyline points="440,1302 440,1326 474,1326"/><polyline points="119,1160 119,1327"/>
<polyline points="158,1190 148,1190 148,1307"/><polyline points="181,1231 170,1231 170,1303"/><polyline points="260,1137 290,1182"/>
<polyline points="107,1347 107,1378"/><polyline points="306,1277 306,1298"/><polyline points="350,1327 350,1360 400,1360"/>
<polyline points="222,1430 222,1458 272,1458"/><polyline points="150,1422 150,1518 165,1518"/><polyline points="132,1433 132,1563 150,1563"/>
<polyline points="101,1468 101,1599 130,1599"/><polyline points="313,1407 347,1407"/><polyline points="702,1326 713,1326 725,1338"/>
<polyline points="772,1281 782,1281 792,1337"/><polyline points="660,1370 668,1370 688,1400"/><polyline points="604,1433 618,1433"/>
<polyline points="830,1247 853,1247 870,1236"/><polyline points="880,1282 887,1282 900,1300"/><polyline points="943,1368 1000,1368"/>
<polyline points="1055,1287 1067,1287"/><polyline points="945,1407 1038,1407"/><polyline points="1093,1397 1102,1386 1108,1386"/>
<polyline points="1058,1438 1075,1438"/><polyline points="946,1480 995,1480 1015,1465"/><polyline points="948,1511 997,1511 1030,1505"/>
<polyline points="955,1542 1003,1542 1037,1535"/><polyline points="955,1582 998,1582 1040,1568"/>
<polyline points="1177,1117 1177,1208 1160,1208"/><polyline points="1020,1218 1058,1241 1070,1241"/>
</g>

<!-- ===== labels ===== -->
<text x="169" y="143">53133801</text><text x="116" y="188">512369</text><text x="529" y="151">513163</text>
<text x="705" y="169">527256</text><text x="922" y="232">51398501</text><text x="544" y="217">53133701</text>
<text x="558" y="275">329896(2)</text><text x="129" y="284">527744</text><text x="224" y="345">332453</text>
<text x="75" y="339">505322(2)</text><text x="222" y="374">343517</text><text x="614" y="356">530301</text>
<text x="995" y="405">527677</text><text x="627" y="418">465392</text><text x="627" y="449">525769</text>
<text x="198" y="450">332448</text><text x="64" y="463">53116301</text><text x="285" y="484">549670</text>
<text x="372" y="501">337176</text><text x="375" y="537">531203</text><text x="688" y="513">54467501(4)</text>
<text x="737" y="583">52898201</text><text x="302" y="606">701771(2)</text><text x="74" y="653">531058</text>
<text x="348" y="681">512369(2)</text><text x="613" y="669">700967(2)</text><text x="443" y="730">531024(2)</text>
<text x="850" y="731">531023</text><text x="1057" y="759">530773</text><text x="380" y="769">527605</text>
<text x="1044" y="818">703172</text><text x="485" y="849">51229801</text><text x="1011" y="873">531079</text>
<text x="428" y="891">531026</text><text x="579" y="911">348953(2)</text><text x="1041" y="937">700821(2)</text>
<text x="94" y="948">527674</text><text x="477" y="954">528785</text><text x="684" y="962">513381</text>
<text x="1083" y="974">53048140</text><text x="408" y="986">530423</text><text x="137" y="1006">510953(2)</text>
<text x="618" y="1047">530158(2)</text><text x="86" y="1050">531258</text><text x="300" y="1061">531226(2)</text>
<text x="624" y="1084">54837101</text><text x="250" y="1098">531227(2)</text><text x="378" y="1111">528786</text>
<text x="662" y="1117">700363</text><text x="212" y="1132">512420</text><text x="653" y="1155">531271(4)</text>
<text x="108" y="1156">531223(2)</text><text x="414" y="1185">530160</text><text x="679" y="1186">530376(2)</text>
<text x="168" y="1198">531275(2)</text><text x="1080" y="1213">530157</text><text x="636" y="1221">530375(2)</text>
<text x="190" y="1239">702387(2)</text><text x="724" y="1255">54840440</text><text x="1072" y="1249">530156</text>
<text x="349" y="1251">531140</text><text x="260" y="1271">512423(2)</text><text x="551" y="1283">530162</text>
<text x="662" y="1287">549372(4)</text><text x="800" y="1290">530153</text><text x="1077" y="1296">703172(6)</text>
<text x="515" y="1306">530159</text><text x="477" y="1332">548402</text><text x="592" y="1333">523599(2)</text>
<text x="401" y="1368">531024(2)</text><text x="862" y="1376">531078</text><text x="552" y="1378">703172(2)</text>
<text x="54" y="1398">700489(2)</text><text x="1112" y="1393">700390</text><text x="864" y="1413">531024</text>
<text x="352" y="1414">512913</text><text x="474" y="1441">52360302(2)</text><text x="1077" y="1447">512461</text>
<text x="277" y="1465">527845(2)</text><text x="864" y="1487">548415</text><text x="866" y="1517">316913</text>
<text x="171" y="1525">700138(4)</text><text x="872" y="1547">700202</text><text x="157" y="1571">531193(2)</text>
<text x="874" y="1588">323221</text><text x="139" y="1606">52360302(2)</text>
</svg>
</body></html>
